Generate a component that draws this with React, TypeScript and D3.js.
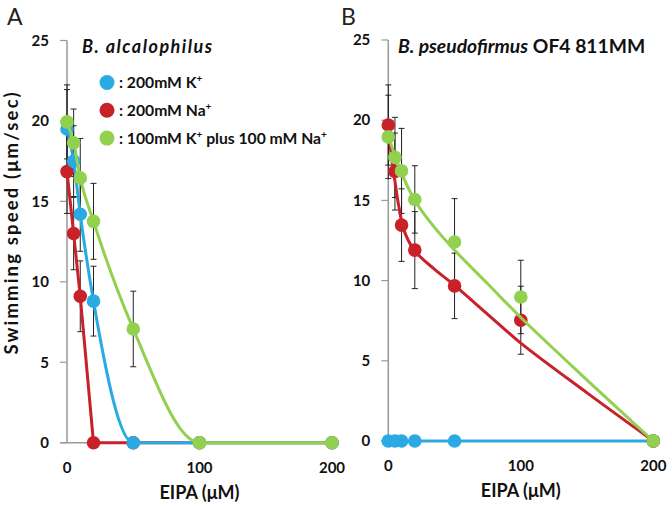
import React from 'react';
import * as d3 from 'd3';

// EIPA doses (µM)
const doses = [0, 5, 10, 20, 50, 100, 200];
const xTicks = [0, 100, 200];
const yTicks = [0, 5, 10, 15, 20, 25];

// Panel A: B. alcalophilus
const alcK = [19.5, 17.5, 14.2, 8.8, 0, 0, 0];
const alcKErr = [2.45, 2.2, 2.3, 2.17, 0, 0, 0];
const alcNa = [16.85, 13.0, 9.1, 0, 0, 0, 0];
const alcNaErr = [2.6, 2.25, 2.2, 0, 0, 0, 0];
const alcMix = [19.94, 18.64, 16.46, 13.76, 7.07, 0, 0];
const alcMixErr = [2.3, 2.1, 2.45, 2.36, 2.35, 0, 0];

// Panel B: B. pseudofirmus OF4 811MM
const pseKDoses = [0, 5, 10, 20, 50, 200];
const pseK = [0, 0, 0, 0, 0, 0];
const pseNa = [19.7, 16.8, 13.46, 11.9, 9.67, 7.53, 0];
const pseNaErr = [2.5, 2.4, 2.26, 2.4, 2.04, 2.12, 0];
const pseMix = [18.96, 17.68, 16.84, 15.06, 12.41, 8.98, 0];
const pseMixErr = [2.6, 2.5, 2.65, 2.1, 2.7, 2.29, 0];

// trend lines drawn in panel B
const naFitDoses = [0, 2, 5, 8, 12, 20, 35, 50, 75, 100, 150, 200];
const pseNaFit = [19.7, 18.0, 16.2, 14.6, 13.1, 11.85, 10.7, 9.7, 7.9, 6.1, 3.0, 0];
const mixFitDoses = [0, 5, 10, 20, 35, 50, 75, 100, 150, 200];
const pseMixFit = [19.0, 17.8, 16.7, 15.0, 13.3, 11.9, 9.8, 7.7, 3.8, 0];

const BLUE = '#2aaae2';
const RED = '#c8212a';
const GREEN = '#92d050';
const FONT = 'Lato, "Open Sans", sans-serif';

type Series = {
  xs: number[];
  ys: number[];
  err?: number[];
  color: string;
  curve: d3.CurveFactory;
  lineXs?: number[];
  lineYs?: number[];
};

const Panel = ({ left, right, top, bottom, series, letter, letterX, title }: {
  left: number; right: number; top: number; bottom: number;
  series: Series[]; letter: string; letterX: number; title: React.ReactNode;
}) => {
  const x = d3.scaleLinear().domain([0, 200]).range([left, right]);
  const y = d3.scaleLinear().domain([0, 25]).range([bottom, top]);
  const line = (c: d3.CurveFactory) =>
    d3.line<[number, number]>().x(d => x(d[0])).y(d => y(d[1])).curve(c);

  return (
    <g>
      <text x={letterX} y={25} fontFamily={FONT} fontSize={23} fill="#222">{letter}</text>
      {/* axes */}
      <line x1={left} x2={left} y1={top} y2={bottom} stroke="#999" strokeWidth={1.5} />
      <line x1={left - 7} x2={right} y1={bottom} y2={bottom} stroke="#999" strokeWidth={1.5} />
      {yTicks.map(t => (
        <g key={t}>
          <line x1={left - 7} x2={left} y1={y(t)} y2={y(t)} stroke="#999" strokeWidth={1.2} />
          <text x={left - 18} y={y(t)} dy="0.35em" textAnchor="end" fontFamily={FONT}
            fontWeight={700} fontSize={15} fill="#111">{t}</text>
        </g>
      ))}
      {xTicks.map(t => (
        <text key={t} x={x(t)} y={bottom + 30} textAnchor="middle" fontFamily={FONT}
          fontWeight={700} fontSize={15} fill="#111">{t}</text>
      ))}
      <text x={(left + right) / 2} y={bottom + 56} textAnchor="middle" fontFamily={FONT}
        fontWeight={700} fontSize={18} fill="#111">EIPA (μM)</text>
      {title}
      {/* error bars */}
      {series.map((s, si) => s.err ? s.xs.map((d, i) => s.err![i] > 0 ? (
        <g key={`e${si}-${i}`} stroke="#222" strokeWidth={1}>
          <line x1={x(d)} x2={x(d)} y1={y(s.ys[i] + s.err![i])} y2={y(s.ys[i] - s.err![i])} />
          <line x1={x(d) - 3} x2={x(d) + 3} y1={y(s.ys[i] + s.err![i])} y2={y(s.ys[i] + s.err![i])} />
          <line x1={x(d) - 3} x2={x(d) + 3} y1={y(s.ys[i] - s.err![i])} y2={y(s.ys[i] - s.err![i])} />
        </g>
      ) : null) : null)}
      {series.map((s, si) => {
        const lx = s.lineXs ?? s.xs;
        const ly = s.lineYs ?? s.ys;
        const pts = lx.map((d, i) => [d, ly[i]] as [number, number]);
        return (
          <g key={`s${si}`}>
            <path d={line(s.curve)(pts) ?? ''} fill="none" stroke={s.color} strokeWidth={3} />
            {s.xs.map((d, i) => (
              <circle key={i} cx={x(d)} cy={y(s.ys[i])} r={6.8} fill={s.color} />
            ))}
          </g>
        );
      })}
    </g>
  );
};

const Sup = ({ children }: { children: React.ReactNode }) => (
  <tspan fontSize={10} dy={-6}>{children}</tspan>
);

export default function App() {
  const legend = [
    { color: BLUE, label: <>: 200mM K<Sup>+</Sup></> },
    { color: RED, label: <>: 200mM Na<Sup>+</Sup></> },
    { color: GREEN, label: <>: 100mM K<Sup>+</Sup><tspan dy={6}> plus 100 mM Na</tspan><Sup>+</Sup></> },
  ];

  const titleA = (
    <g>
      <text x={82} y={53} fontFamily={FONT} fontWeight={700} fontStyle="italic" fontSize={18}
        textLength={130} lengthAdjust="spacing" fill="#111">
        B. alcalophilus
      </text>
      {legend.map((l, i) => (
        <g key={i}>
          <circle cx={107} cy={82.5 + i * 27.8} r={7.5} fill={l.color} />
          <text x={119} y={88 + i * 27.8} fontFamily={FONT} fontWeight={700} fontSize={15.7} fill="#111">
            {l.label}
          </text>
        </g>
      ))}
    </g>
  );

  const titleB = (
    <text x={398} y={53} fontFamily={FONT} fontWeight={700} fontSize={19.3} fill="#111">
      <tspan fontStyle="italic">B. pseudofirmus</tspan> OF4 811MM
    </text>
  );

  const fitCurve = d3.curveCatmullRom.alpha(0.5);
  const seriesA: Series[] = [
    { xs: doses, ys: alcNa, err: alcNaErr, color: RED, curve: d3.curveLinear },
    { xs: doses, ys: alcK, err: alcKErr, color: BLUE, curve: d3.curveMonotoneX },
    { xs: doses, ys: alcMix, err: alcMixErr, color: GREEN, curve: d3.curveMonotoneX },
  ];
  const seriesB: Series[] = [
    { xs: pseKDoses, ys: pseK, color: BLUE, curve: d3.curveLinear },
    { xs: doses, ys: pseNa, err: pseNaErr, color: RED, curve: fitCurve, lineXs: naFitDoses, lineYs: pseNaFit },
    { xs: doses, ys: pseMix, err: pseMixErr, color: GREEN, curve: fitCurve, lineXs: mixFitDoses, lineYs: pseMixFit },
  ];

  return (
    <svg width={672} height={506} style={{ position: 'absolute', left: 0, top: 0, background: '#fff' }}>
      <Panel left={67} right={332} top={40.5} bottom={442.7} series={seriesA} letter="A" letterX={7} title={titleA} />
      <Panel left={388.3} right={653.3} top={40} bottom={441} series={seriesB} letter="B" letterX={341} title={titleB} />
      <text transform="translate(18,223.5) rotate(-90)" textAnchor="middle" fontFamily={FONT}
        fontWeight={700} fontSize={18.5} textLength={262} lengthAdjust="spacing" fill="#111">Swimming speed (μm/sec)</text>
    </svg>
  );
}
